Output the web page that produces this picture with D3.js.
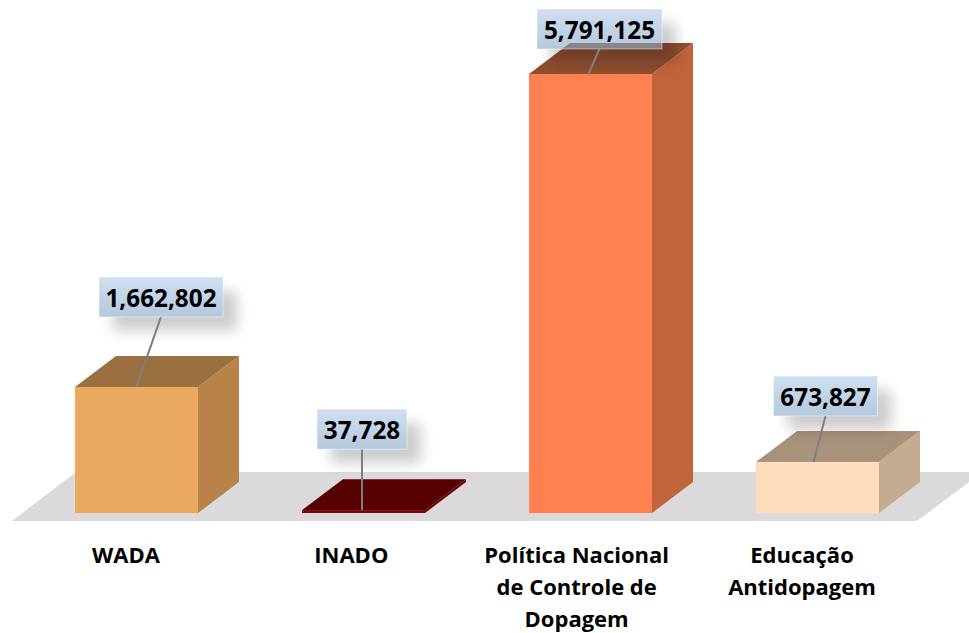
<!DOCTYPE html>
<html>
<head>
<meta charset="utf-8">
<script src="https://cdn.jsdelivr.net/npm/d3@7"></script>
<style>
  html, body { margin: 0; padding: 0; background: #fff; }
  svg { display: block; }
  text { font-family: "Open Sans", sans-serif; font-weight: 700; fill: #000; }
</style>
</head>
<body>
<div class="chart"></div>
<script>
// Data
var categories = ["WADA", "INADO", "Política Nacional de Controle de Dopagem", "Educação Antidopagem"];
var values = [1662802, 37728, 5791125, 673827];
var valueLabels = ["1,662,802", "37,728", "5,791,125", "673,827"];

// Step 1: chart set up
var svgWidth = 969;
var svgHeight = 633;
var baseY = 513;
var depthX = 41;
var depthY = 31;

var categoryLines = [["WADA"], ["INADO"], ["Política Nacional", "de Controle de", "Dopagem"], ["Educação", "Antidopagem"]];
var frontColors = ["#eba960", "#7a0404", "#ff8050", "#fddcbc"];
var topColors = ["#9a7040", "#560000", "#904e30", "#a8927c"];
var sideColors = ["#b8824a", "#6a0000", "#c0643c", "#c4ac90"];

// label box placement relative to the top of its bar: dx, gap, box width
var labelLayout = [
  { dx: 24.5, gap: 70, w: 124 },
  { dx: -1.5, gap: 61, w: 90 },
  { dx: 9, gap: 25, w: 125 },
  { dx: 8, gap: 46, w: 104 }
];
var boxHeight = 40;
var shadowOffset = 14;

var svg = d3.select(".chart")
  .append("svg")
  .attr("width", svgWidth)
  .attr("height", svgHeight);

var defs = svg.append("defs");

var boxGradient = defs.append("linearGradient")
  .attr("id", "boxFill")
  .attr("x1", 0).attr("y1", 0).attr("x2", 0).attr("y2", 1);
boxGradient.append("stop").attr("offset", "0%").attr("stop-color", "rgb(175,203,233)").attr("stop-opacity", 0.6);
boxGradient.append("stop").attr("offset", "100%").attr("stop-color", "rgb(130,163,197)").attr("stop-opacity", 0.6);

defs.append("filter")
  .attr("id", "blur")
  .attr("x", "-30%").attr("y", "-60%").attr("width", "160%").attr("height", "220%")
  .append("feGaussianBlur")
  .attr("stdDeviation", 7);

// Step 2: scales
var xScale = d3.scaleBand()
  .domain(categories)
  .range([75, 879])
  .paddingInner(104 / 227)
  .paddingOuter(0);

var yScale = d3.scaleLinear()
  .domain([0, d3.max(values)])
  .range([baseY, 74]);

var labelScale = d3.scalePoint()
  .domain(categories)
  .range([126, 802]);

var bars = categories.map(function (c, i) {
  return { name: c, value: values[i], i: i, x: xScale(c), w: xScale.bandwidth(), y: yScale(values[i]) };
});

// Step 3: floor
svg.append("polygon")
  .attr("points", "12,521 917,521 969,482 969,472 76,472")
  .attr("fill", "#dbd9db");

// Step 4: bars, side and top faces first
var barGroup = svg.selectAll(".bar")
  .data(bars)
  .enter()
  .append("g")
  .attr("class", "bar");

barGroup.append("polygon")
  .attr("fill", d => sideColors[d.i])
  .attr("points", d => {
    var r = d.x + d.w;
    return [[r, d.y], [r + depthX, d.y - depthY], [r + depthX, baseY - depthY], [r, baseY]].join(" ");
  });

barGroup.append("polygon")
  .attr("fill", d => topColors[d.i])
  .attr("points", d => {
    return [[d.x, d.y], [d.x + depthX, d.y - depthY], [d.x + d.w + depthX, d.y - depthY], [d.x + d.w, d.y]].join(" ");
  });

barGroup.append("rect")
  .attr("x", d => d.x)
  .attr("y", d => d.y)
  .attr("width", d => d.w)
  .attr("height", d => baseY - d.y)
  .attr("fill", d => frontColors[d.i]);

// Step 5: value labels with leader lines
var labelGroup = svg.selectAll(".valueLabel")
  .data(bars)
  .enter()
  .append("g")
  .attr("class", "valueLabel");

function boxX(d) { return d.x + d.w / 2 + labelLayout[d.i].dx - labelLayout[d.i].w / 2; }
function boxY(d) { return d.y - labelLayout[d.i].gap - boxHeight; }

// shadow must not show through the see-through box
bars.forEach(function (d) {
  var mask = defs.append("mask")
    .attr("id", "cut" + d.i)
    .attr("maskUnits", "userSpaceOnUse")
    .attr("x", 0).attr("y", 0).attr("width", svgWidth).attr("height", svgHeight);
  mask.append("rect").attr("width", svgWidth).attr("height", svgHeight).attr("fill", "#fff");
  mask.append("rect")
    .attr("x", boxX(d)).attr("y", boxY(d))
    .attr("width", labelLayout[d.i].w).attr("height", boxHeight)
    .attr("fill", "#000");
});

labelGroup.append("g")
  .attr("mask", d => "url(#cut" + d.i + ")")
  .append("rect")
  .attr("x", d => boxX(d) + shadowOffset)
  .attr("y", d => boxY(d) + shadowOffset)
  .attr("width", d => labelLayout[d.i].w)
  .attr("height", boxHeight)
  .attr("fill", "#000")
  .attr("opacity", 0.2)
  .attr("filter", "url(#blur)");

labelGroup.append("line")
  .attr("x1", d => boxX(d) + labelLayout[d.i].w / 2)
  .attr("y1", d => boxY(d) + boxHeight)
  .attr("x2", d => d.i === 1 ? boxX(d) + labelLayout[d.i].w / 2 : d.x + d.w / 2 + (d.i === 2 ? -2 : d.i === 3 ? -4 : 0))
  .attr("y2", d => d.y)
  .attr("stroke", "#7f7f7f")
  .attr("stroke-width", 2);

labelGroup.append("rect")
  .attr("x", d => boxX(d))
  .attr("y", d => boxY(d))
  .attr("width", d => labelLayout[d.i].w)
  .attr("height", boxHeight)
  .attr("fill", "url(#boxFill)")
  .attr("stroke", "#fff")
  .attr("stroke-opacity", 0.45)
  .attr("stroke-width", 1);

labelGroup.append("text")
  .attr("x", d => boxX(d) + labelLayout[d.i].w / 2)
  .attr("y", d => boxY(d) + 30)
  .attr("text-anchor", "middle")
  .attr("font-size", 24.3)
  .text(d => valueLabels[d.i]);

// Step 6: category labels
var categoryText = svg.selectAll(".category")
  .data(bars)
  .enter()
  .append("text")
  .attr("class", "category")
  .attr("text-anchor", "middle")
  .attr("font-size", 22);

categoryText.selectAll("tspan")
  .data(d => categoryLines[d.i].map(l => ({ line: l, name: d.name })))
  .enter()
  .append("tspan")
  .attr("x", d => labelScale(d.name))
  .attr("y", (d, j) => 563 + j * 32)
  .text(d => d.line);
</script>
</body>
</html>
